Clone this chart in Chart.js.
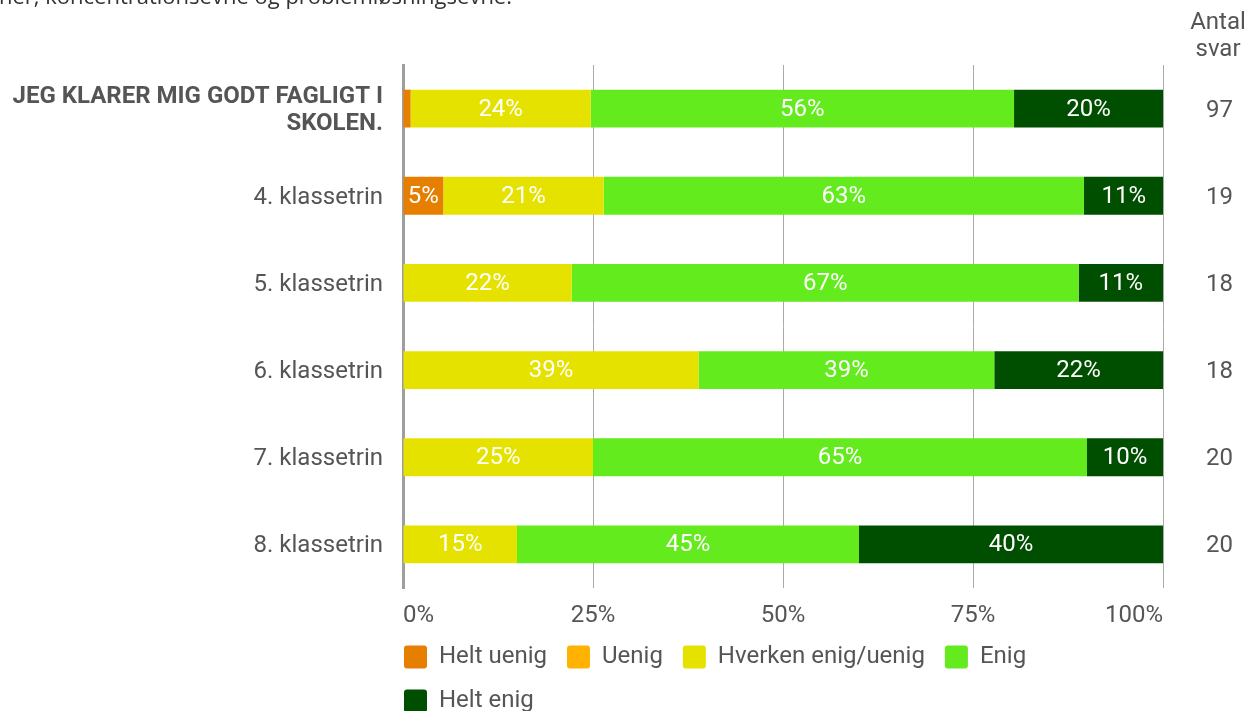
<!DOCTYPE html>
<html>
<head>
<meta charset="utf-8">
<script src="https://cdn.jsdelivr.net/npm/chart.js@4/dist/chart.umd.min.js"></script>
<style>
  html, body { margin: 0; padding: 0; background: #fff; overflow: hidden; }
  #wrap { position: relative; width: 1247px; height: 711px; }
  #topText { position: absolute; left: -1px; top: -17px; font-family: "Open Sans", sans-serif; font-size: 22px; line-height: 24px; color: #333; white-space: nowrap; }
  canvas { position: absolute; left: 0; top: 0; }
</style>
</head>
<body>
<div id="wrap">
  <canvas id="c" width="1247" height="711"></canvas>
  <div id="topText">ner, koncentrationsevne og problemløsningsevne.</div>
</div>
<script>
const categories = [["JEG KLARER MIG GODT FAGLIGT I", "SKOLEN."], "4. klassetrin", "5. klassetrin", "6. klassetrin", "7. klassetrin", "8. klassetrin"];
const antalSvar = ["97", "19", "18", "18", "20", "20"];
const antalHeader = ["Antal", "svar"];
const seriesNames = ["Helt uenig", "Uenig", "Hverken enig/uenig", "Enig", "Helt enig"];
const heltUenig = [1.0, 5.3, 0, 0, 0, 0];
const uenig = [0, 0, 0, 0, 0, 0];
const hverken = [23.7, 21.1, 22.2, 38.9, 25.0, 15.0];
const enig = [55.7, 63.2, 66.7, 38.9, 65.0, 45.0];
const heltEnig = [19.6, 10.5, 11.1, 22.2, 10.0, 40.0];
const xTickLabels = ["0%", "25%", "50%", "75%", "100%"];

const colors = ["#E67E00", "#FFB300", "#E6E200", "#64EB1E", "#004F00"];
const seriesData = [heltUenig, uenig, hverken, enig, heltEnig];
const FONT = "Roboto";
const TXT = "#555555";
const FS = 24;

function build() {
  const datasets = seriesNames.map((n, i) => ({
    label: n,
    data: seriesData[i],
    backgroundColor: colors[i],
    borderWidth: 0,
    barPercentage: 0.434,
    categoryPercentage: 1.0,
    yAxisID: 'y'
  }));

  const labelPlugin = {
    id: 'barLabels',
    afterDatasetsDraw(chart) {
      const ctx = chart.ctx;
      ctx.save();
      ctx.font = FS + "px " + FONT;
      ctx.fillStyle = "#ffffff";
      ctx.textAlign = "center";
      ctx.textBaseline = "middle";
      chart.data.datasets.forEach((ds, di) => {
        const meta = chart.getDatasetMeta(di);
        meta.data.forEach((el, i) => {
          const v = ds.data[i];
          if (v >= 3) {
            const p = el.getCenterPoint();
            ctx.fillText(Math.round(v) + "%", p.x, p.y + 1);
          }
        });
      });
      ctx.restore();
    },
    afterDraw(chart) {
      const ctx = chart.ctx;
      ctx.save();
      ctx.font = FS + "px " + FONT;
      ctx.fillStyle = TXT;
      ctx.textAlign = "center";
      ctx.textBaseline = "middle";
      antalHeader.forEach((t, i) => ctx.fillText(t, 1218, 23 + i * 27));
      ctx.restore();
    },
    afterLayout(chart) {
      const lg = chart.legend;
      if (lg) {
        const pad = lg.options.labels.padding;
        lg.left -= (pad - 1);
        lg.right -= (pad - 1);
      }
    }
  };

  new Chart(document.getElementById('c'), {
    type: 'bar',
    data: { labels: categories, datasets },
    plugins: [labelPlugin],
    options: {
      indexAxis: 'y',
      responsive: false,
      animation: false,
      layout: { padding: { top: 65, left: 0, right: 0, bottom: -12 } },
      scales: {
        x: {
          stacked: true,
          min: 0, max: 100,
          ticks: {
            stepSize: 25,
            align: 'inner',
            color: TXT,
            font: { family: FONT, size: FS },
            padding: 14,
            callback: (v) => xTickLabels[Math.round(v / 25)]
          },
          grid: { color: "#aaaaaa", lineWidth: 1, drawTicks: false },
          border: { display: false },
          afterFit(s) { s.height = 37; }
        },
        y: {
          stacked: true,
          position: 'left',
          ticks: {
            color: TXT,
            padding: 20,
            labelOffset: 2,
            font: (c) => ({ family: FONT, size: FS, weight: c.index === 0 ? 'bold' : 'normal', lineHeight: 1.13 })
          },
          grid: { display: false, drawTicks: false },
          border: { display: true, color: "#9e9e9e", width: 3 },
          afterFit(s) { s.width = 403; }
        },
        y2: {
          type: 'category',
          labels: antalSvar,
          position: 'right',
          offset: true,
          ticks: { color: TXT, padding: 43, labelOffset: 2, font: { family: FONT, size: FS } },
          grid: { display: false, drawTicks: false },
          border: { display: false },
          afterFit(s) { s.width = 84; }
        }
      },
      plugins: {
        legend: {
          position: 'bottom',
          align: 'start',
          fullSize: false,
          labels: {
            boxWidth: 23,
            boxHeight: 23,
            padding: 20,
            color: TXT,
            font: { family: FONT, size: FS },
            useBorderRadius: true,
            borderRadius: 3
          }
        },
        tooltip: { enabled: false }
      }
    }
  });
}

const fontLoads = [
  document.fonts.load("24px Roboto"),
  document.fonts.load("bold 24px Roboto"),
  document.fonts.load('22px "Open Sans"')
];
Promise.all(fontLoads).then(build, build);
</script>
</body>
</html>
